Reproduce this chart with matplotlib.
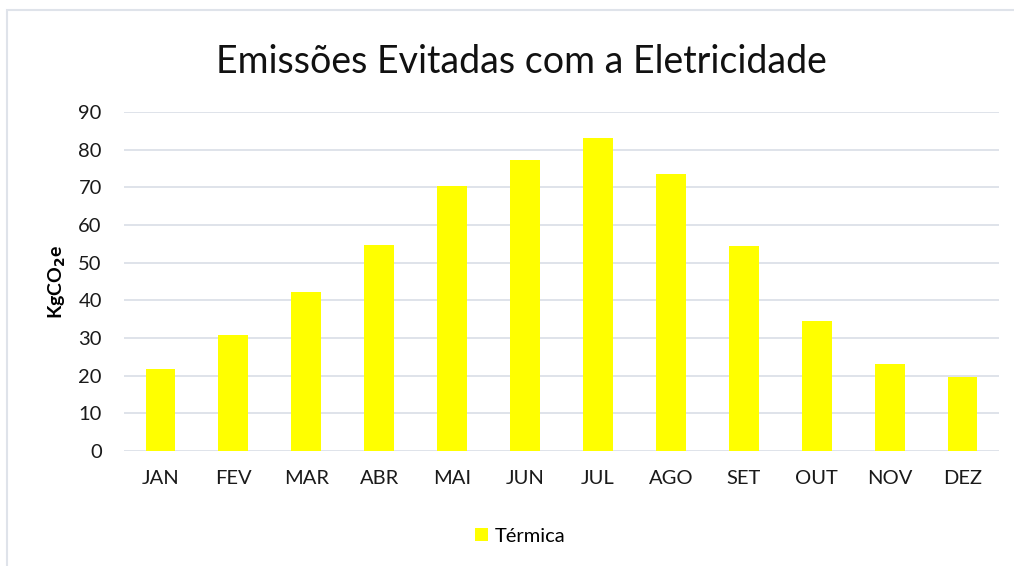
import matplotlib.pyplot as plt
import matplotlib.patches as mpatches

months = ['JAN', 'FEV', 'MAR', 'ABR', 'MAI', 'JUN', 'JUL', 'AGO', 'SET', 'OUT', 'NOV', 'DEZ']
termica = [21.7, 30.7, 42.3, 54.7, 70.4, 77.3, 83.1, 73.6, 54.5, 34.4, 23.2, 19.7]

plt.rcParams['font.family'] = ['Lato', 'DejaVu Sans']

W, H = 1014, 566
fig = plt.figure(figsize=(W / 100, H / 100), dpi=100)

# chart area border (left and top only visible)
fig.patches.append(mpatches.Rectangle((7 / W, -0.1), 1.1, 1.1 - 10 / H,
                                      transform=fig.transFigure, fill=False,
                                      edgecolor='#dfe3ea', linewidth=1.5))

ax = fig.add_axes([124 / W, 1 - 451 / H, (999 - 124) / W, (451 - 112) / H])
x = range(len(months))
ax.bar(x, termica, width=0.41, color='#FFFF00', label='Térmica', zorder=3)

ax.set_ylim(0, 90)
ax.set_xlim(-0.5, len(months) - 0.5)
ax.set_yticks(range(0, 91, 10))
ax.set_xticks(list(x))
ax.set_xticklabels(months)
ax.grid(axis='y', color='#dfe3ea', linewidth=1.4, zorder=0)
for s in ['top', 'right', 'left', 'bottom']:
    ax.spines[s].set_visible(False)
ax.tick_params(length=0, labelsize=14.5, colors='#1a1a1a', pad=16)
ax.tick_params(axis='x', pad=14)

ax.set_ylabel('KgCO$_\\mathbf{2}$e', fontsize=14, fontweight='bold')
ax.yaxis.set_label_coords(-0.064, 0.5)

fig.text(521 / W, 1 - 62 / H, 'Emissões Evitadas com a Eletricidade',
         ha='center', va='center', fontsize=27, color='#111111')

fig.legend(loc='center', bbox_to_anchor=(520 / W, 1 - 536 / H), frameon=False,
           fontsize=14.5, handlelength=0.65, handleheight=0.65, handletextpad=0.3)

fig.savefig('out.png', dpi=100, facecolor='white')
